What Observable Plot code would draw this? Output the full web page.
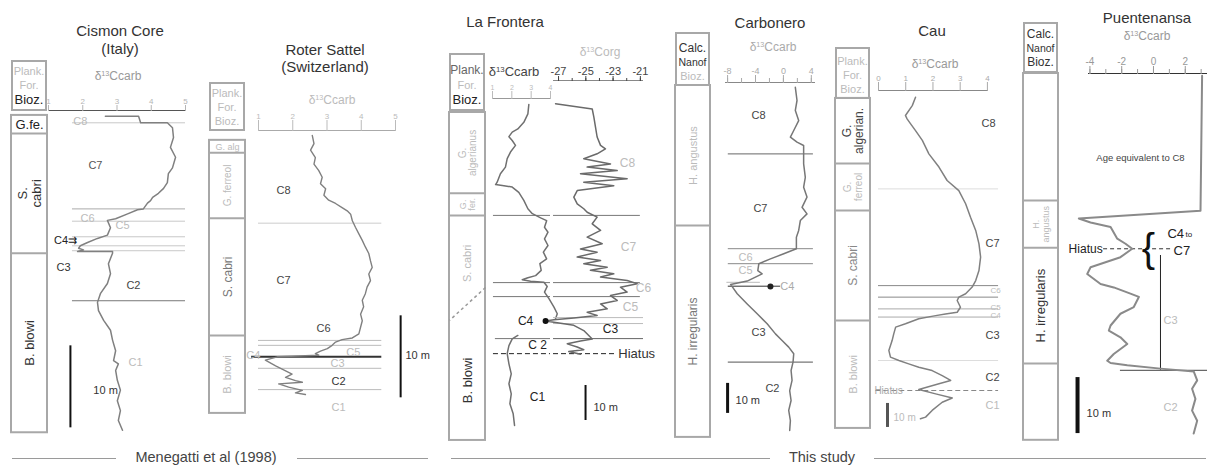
<!DOCTYPE html>
<html>
<head>
<meta charset="utf-8">
<script src="https://cdn.jsdelivr.net/npm/d3@7"></script>
<script src="https://cdn.jsdelivr.net/npm/@observablehq/plot@0.6"></script>
<style>
  html,body{margin:0;padding:0;background:#fff;}
  #fig{position:relative;width:1208px;height:467px;overflow:hidden;background:#fff;font-family:"Liberation Sans",Arial,sans-serif;color:#333;}
  .t{position:absolute;white-space:nowrap;line-height:1;}
  .hdr{position:absolute;box-sizing:border-box;border:2px solid #a8a8a8;text-align:center;line-height:14px;overflow:visible;display:flex;flex-direction:column;justify-content:flex-end;align-items:center;padding-bottom:1px;}
  .hdr div{white-space:nowrap;}
  .hr{position:absolute;height:0;border-top:1px solid #9a9a9a;}
</style>
</head>
<body>
<div id="fig"></div>
<script>
// ======================= DATA =======================
// ---- Cismon Core (Italy) : depth (m below top), d13C carb ----
const cismonDepth = [0.7,0.7,1.5,1.5,2.1,3.3,4.5,5.7,7.0,7.7,8.8,9.5,10.1,10.6,11.0,11.3,12.0,12.1,12.6,13.2,13.4,14.3,15.2,15.6,16.1,16.5,16.8,17.0,17.2,17.2,17.4,18.7,19.9,21.1,22.3,23.4,24.4,25.6,26.8,28.0,29.3,30.5,30.9,31.7,32.9,34.1,35.4,36.6,37.8,39.0];
const cismonCarb  = [2.66,3.63,3.69,4.47,4.62,4.65,4.56,4.71,4.62,4.50,4.47,4.36,4.21,4.04,3.98,3.89,3.77,3.60,3.31,2.96,2.72,2.81,2.72,2.43,2.14,1.93,1.88,2.02,1.85,2.87,2.87,2.75,2.81,2.72,2.52,2.43,2.46,2.61,2.81,2.87,2.96,2.90,3.04,2.96,3.01,3.10,3.01,3.10,3.04,3.16];
const cismonTicks = [1,2,3,4,5];
const cismonBounds = [1.5,12.0,13.5,15.4,16.5,17.1,23.2];
const cismonSegText = ["C8","C7","C6","C5","C4⇉","C3","C2","C1"];
const cismonSegX = [1.93,2.37,2.14,3.16,1.50,1.44,3.48,3.54];
const cismonSegDepth = [1.3,6.7,13.2,14.0,15.9,19.1,21.3,30.7];
const cismonZones = ["G.fe.","S.\ncabri","B. blowi"];
const cismonZoneTop = [0.6,2.8,17.4];
const cismonZoneBase = [2.8,17.4,39.3];
const cismonBar = [1.64,28.7,2.31,34.1];

// ---- Roter Sattel (Switzerland) ----
const roterDepth = [0.6,1.6,2.4,3.3,4.1,4.9,5.7,6.5,7.1,7.9,8.5,8.9,9.4,9.8,10.2,11.0,11.8,12.6,13.4,14.2,15.0,15.9,16.7,17.5,18.3,19.1,19.9,20.7,21.5,22.4,23.2,24.0,24.8,25.3,25.5,25.8,26.2,26.6,26.9,27.2,27.4,27.6,28.0,28.7,29.1,29.7,30.1,30.5,30.7,30.9,31.3,31.7,32.0,32.2];
const roterCarb  = [2.57,2.62,2.52,2.66,2.62,2.76,2.86,2.81,2.96,2.91,3.05,3.25,3.44,3.59,3.69,3.74,3.83,3.93,4.03,4.12,4.22,4.27,4.32,4.22,4.27,4.17,4.12,4.03,4.07,3.98,4.03,3.98,3.93,3.74,3.44,3.25,3.15,3.01,2.81,2.66,2.76,1.55,1.20,1.50,1.69,1.98,1.79,2.08,2.28,1.59,1.88,2.28,2.08,2.37];
const roterTicks = [1,2,3,4,5];
const roterBounds = [11.3,25.6,26.2,27.6,29.0,31.6];
const roterSegText = ["C8","C7","C6","C5","C4","C3","C2","C1"];
const roterSegX = [1.73,1.73,2.90,3.77,0.85,3.31,3.34,3.34];
const roterSegDepth = [7.3,18.3,24.1,27.1,27.4,28.4,30.6,33.8];
const roterZones = ["G. alg","G. ferreol","S. cabri","B. blowi"];
const roterZoneTop = [1.2,2.7,10.7,25.0];
const roterZoneBase = [2.7,10.7,25.0,34.5];
const roterBar = [5.15,22.6,5.29,27.4];

// ---- La Frontera ----
const fronteraCarbDepthA = [1.7,4.4,6.8,8.7,9.6,10.9,12.0,13.4,15.3,17.2,19.6,21.5,23.9,24.6,24.9,25.3,26.8,29.1,31.5,32.9,34.1,34.9,36.8,38.2,40.1,42.0,43.9,45.8,47.2,49.1,50.6,51.2,51.8,52.2,52.5,53.7,55.3,57.2,59.6,61.5,62.9];
const fronteraCarbA = [2.88,2.83,2.62,2.31,2.02,1.85,2.02,2.19,1.93,1.76,1.67,1.41,1.24,1.16,1.59,2.02,2.36,2.62,2.83,3.06,3.49,3.80,3.69,3.87,3.69,3.87,3.63,3.80,3.45,3.52,3.23,2.83,2.54,2.97,3.66,3.83,3.69,3.92,4.18,4.35,4.26];
const fronteraCarbDepthB = [67.7,68.7,70.6,72.9,75.8,78.7,81.5,84.4,87.2,90.1,93.4];
const fronteraCarbB = [2.31,2.02,1.85,1.76,1.85,1.97,1.85,1.97,1.90,2.07,2.14];
const fronteraOrgDepth = [1.5,3.0,5.3,8.2,11.0,13.4,14.4,15.8,17.2,18.7,19.6,20.6,21.5,22.9,23.9,24.9,26.3,28.2,30.1,31.5,32.5,33.9,35.8,37.7,39.6,41.5,43.0,43.9,45.3,46.3,47.2,48.2,49.1,50.1,51.0,52.0,52.9,53.9,55.3,56.3,57.7,58.7,60.1,61.1,62.0,62.7,63.2,63.6,64.2,64.8,66.3,68.7,69.3,70.1,71.0,71.8,72.3,73.1];
const fronteraOrg = [-27.22,-24.53,-24.41,-24.29,-24.17,-23.92,-23.56,-24.17,-25.15,-23.19,-24.90,-22.70,-25.39,-21.97,-25.15,-22.95,-25.63,-25.88,-25.63,-25.15,-24.90,-24.17,-24.53,-23.92,-24.90,-23.80,-25.39,-24.17,-25.63,-23.92,-25.15,-23.43,-24.66,-22.95,-23.92,-21.97,-21.23,-22.46,-21.97,-23.19,-22.70,-23.92,-23.43,-24.90,-24.17,-25.88,-27.34,-27.95,-26.85,-25.88,-25.15,-24.53,-25.39,-26.36,-25.63,-25.15,-26.25,-25.39];
const fronteraCarbTicks = [1,2,3,4];
const fronteraOrgTicks = [-27,-25,-23,-21];
const fronteraOrgMinor = [-27,-26,-25,-24,-23,-22,-21];
const fronteraBounds = [33.4,52.6,56.6,62.6,64.3,68.6];
const fronteraHiatus = [72.9];
const fronteraCarbSegText = ["C4","C 2","C1"];
const fronteraCarbSegX = [2.71,3.33,3.33];
const fronteraCarbSegDepth = [63.7,70.6,85.4];
const fronteraOrgSegText = ["C8","C7","C6","C5","C3"];
const fronteraOrgSegX = [-21.94,-21.87,-20.77,-21.73,-23.19];
const fronteraOrgSegDepth = [18.6,42.6,54.3,59.7,66.0];
const fronteraC4Dot = [-27.95,63.6];
const fronteraZones = ["G.\nalgerianus","G.\nfer.","S. cabri","B. blowi"];
const fronteraZoneTop = [4.0,27.1,33.4,63.4];
const fronteraZoneBase = [27.1,33.4,60.8,97.7];
const fronteraDiag = [54.0,63.4];
const fronteraBar = [-25.02,82.0,-24.44,88.3];

// ---- Carbonero ----
const carboDepth = [1.6,6.0,9.3,12.7,16.0,18.2,19.9,21.0,23.8,27.1,31.6,34.9,38.2,41.6,43.8,46.0,49.3,51.6,55.4,57.1,58.8,60.4,62.7,63.8,66.2,67.3,70.4,73.8,77.1,80.4,83.8,86.0,88.2,90.4,93.2,96.0,99.3,102.7,106.0,109.3,112.7,116.0];
const carboCarb  = [1.71,1.95,1.71,2.19,1.48,1.00,1.95,2.90,2.90,2.90,3.14,2.90,3.38,2.67,3.38,2.43,2.19,1.86,1.86,0.05,-1.86,-3.52,-3.67,-3.05,-5.19,-7.57,-6.62,-5.19,-3.76,-2.33,-1.14,-0.19,0.76,1.48,1.38,1.10,1.24,0.90,1.10,0.76,1.00,0.90];
const carboTicks = [-8,-4,0,4];
const carboMinor = [-8,-6,-4,-2,0,2,4];
const carboBounds = [23.8,55.4,60.4,66.6,67.9,93.2];
const carboSegText = ["C8","C7","C6","C5","C4","C3","C2"];
const carboSegX = [-3.57,-3.29,-5.43,-5.43,0.57,-3.57,-1.57];
const carboSegDepth = [11.0,42.1,58.4,62.6,68.1,83.3,102.0];
const carboC4Dot = [-1.86,68.0];
const carboZones = ["H. angustus","H. irregularis"];
const carboZoneTop = [1.0,47.7];
const carboZoneBase = [47.7,118.3];
const carboBar = [-8.0,100.3,-6.86,106.0];

// ---- Cau ----
const cauDepth = [2.8,6.3,10.4,11.8,13.9,16.7,20.8,26.4,31.9,37.5,41.7,47.2,52.8,58.3,63.9,69.4,75.0,79.2,81.9,84.7,86.1,87.5,90.3,92.4,93.1,93.8,95.1,97.2,98.6,101.4,104.2,108.3,111.1,112.5,113.9,115.3,116.7,118.8,120.8,122.2,124.6,126.4,128.1,129.9,133.3,136.1,136.8];
const cauCarb  = [1.36,1.24,0.99,1.05,1.18,1.36,1.61,1.85,2.22,2.52,2.95,3.20,3.38,3.57,3.69,3.75,3.69,3.57,3.44,3.20,2.95,2.89,3.01,2.89,2.46,2.10,1.48,0.99,0.63,0.56,0.50,0.38,0.44,0.75,1.11,1.48,1.97,2.34,2.65,2.22,1.48,2.10,2.71,2.34,1.97,1.73,1.54];
const cauTicks = [0,1,2,3,4];
const cauBounds = [41.0,81.3,86.1,91.0,94.4,112.5];
const cauHiatus = [125.0];
const cauSegText = ["C8","C7","C6","C5","C4","C3","C2","C1"];
const cauSegX = [4.04,4.19,4.30,4.30,4.30,4.19,4.19,4.19];
const cauSegDepth = [13.8,63.8,83.3,90.4,93.8,102.1,119.6,131.3];
const cauZones = ["G.\nalgerian.","G.\nferreol","S. cabri","B. blowi"];
const cauZoneTop = [3.3,30.4,50.0,95.8];
const cauZoneBase = [30.4,50.0,95.8,140.8];
const cauBar = [0.33,130.4,0.55,136.3];

// ---- Puentenansa ----
const puenDepth = [0.4,24.5,25.9,26.6,27.4,29.5,30.4,31.3,32.8,34.6,35.8,37.6,38.2,39.3,39.9,41.7,42.9,45.0,45.9,47.1,48.3,50.1,51.3,51.7,52.1,52.7,53.2,54.8,56.3,58.1,60.2,62.0,64.3];
const puenCarb  = [3.06,2.96,-4.70,-3.96,-2.70,-2.28,-1.76,-1.34,-2.08,-3.96,-4.17,-3.33,-2.50,-1.45,-0.92,-1.24,-2.08,-2.70,-2.81,-2.08,-1.65,-2.50,-2.91,-2.70,-1.65,0.44,2.53,2.75,2.43,2.64,2.43,2.75,2.53];
const puenTicks = [-4,-2,0,2];
const puenMinor = [-4,-3,-2,-1,0,1,2,3];
const puenBounds = [53.0];
const puenHiatus = [31.3];
const puenSpan = [0.44,32.5,53.0];
const puenNotes = ["Age equivalent to C8","C3","C2"];
const puenNoteX = [-0.82,1.07,1.07];
const puenNoteDepth = [15.0,44.1,59.6];
const puenZones = ["","H.\nangustus","H. irregularis",""];
const puenZoneTop = [0,22.7,31.1,51.8];
const puenZoneBase = [22.7,31.1,51.8,65.5];
const puenBar = [-4.78,54.3,-4.21,60.7];

// ======================= HELPERS =======================
const FONT = '"Liberation Sans", Arial, Helvetica, sans-serif';
const fig = document.getElementById("fig");
const D13 = '&delta;<span style="font-size:0.6em;position:relative;top:-0.55em">13</span>';

function place(node, left, top) {
  node.style.position = "absolute";
  node.style.left = left + "px";
  node.style.top = top + "px";
  fig.appendChild(node);
}
function txt(s, x, y, size, color, anchor = "middle", html = false) {
  const el = document.createElement("div");
  el.className = "t";
  el.style.left = x + "px";
  el.style.top = (y - size * 0.55) + "px";
  el.style.fontSize = size + "px";
  el.style.color = color;
  if (anchor === "middle") el.style.transform = "translateX(-50%)";
  if (anchor === "end") el.style.transform = "translateX(-100%)";
  if (html) el.innerHTML = s; else el.textContent = s;
  fig.appendChild(el);
}
function hline(x0, x1, y) {
  const el = document.createElement("div");
  el.className = "hr";
  Object.assign(el.style, {left: x0 + "px", top: y + "px", width: (x1 - x0) + "px"});
  fig.appendChild(el);
}
function header(x0, x1, y0, y1, lines) {
  const el = document.createElement("div");
  el.className = "hdr";
  Object.assign(el.style, {left: x0 + "px", top: y0 + "px", width: (x1 - x0) + "px", height: (y1 - y0) + "px"});
  el.innerHTML = lines.map(([s, c, fs]) => `<div style="color:${c};font-size:${fs || 11}px;line-height:${(fs || 11) + 3}px">${s}</div>`).join("");
  fig.appendChild(el);
}
function curvePlot(P, marks) {
  const M = 40, MT = 40, MB = 12;
  const yTop = P.axisTop ?? P.top0;
  const dMin = (yTop - P.top0) / P.ppm;
  const dMax = (P.bottom - P.top0) / P.ppm;
  const axes = [
    Plot.ruleY([dMin], {stroke: P.lineColor ?? "#555", strokeWidth: P.lineWidth ?? 1.2}),
    Plot.axisX(P.ticks, {anchor: "top", tickSize: P.tickSize ?? 6, tickPadding: 1, fontSize: P.tickFs ?? 9,
      color: P.tickColor ?? "#999", label: null, tickFormat: d => String(d)})
  ];
  if (P.minor) axes.push(Plot.axisX(P.minor, {anchor: "top", tickSize: P.minorSize ?? 4, color: P.tickColor ?? "#999", label: null, tickFormat: () => ""}));
  const svg = Plot.plot({
    width: P.x1 - P.x0 + 2 * M,
    height: P.bottom - yTop + MT + MB,
    marginLeft: M, marginRight: M, marginTop: MT, marginBottom: MB,
    x: {domain: P.dom},
    y: {domain: [dMin, dMax], reverse: true, axis: null},
    color: {type: "identity"},
    style: {background: "transparent", overflow: "visible", fontFamily: FONT},
    marks: [...marks, ...axes]
  });
  place(svg, P.x0 - M, yTop - MT);
}
function columnPlot(C, names, tops, bases, styles, extra = []) {
  const dMax = (C.bottom - C.top0) / C.ppm;
  const idx = d3.range(names.length);
  const lineIdx = idx.filter(i => i > 0 && styles[i].line !== false);
  const svg = Plot.plot({
    width: C.x1 - C.x0, height: C.bottom - C.top0, margin: 0,
    x: {domain: [0, 1], axis: null},
    y: {domain: [0, dMax], reverse: true, axis: null},
    color: {type: "identity"},
    style: {background: "transparent", overflow: "visible", fontFamily: FONT},
    marks: [
      Plot.rect([0], {x1: 0, x2: 1, y1: d3.min(tops), y2: d3.max(bases), stroke: "#a8a8a8", strokeWidth: 2, fill: "none"}),
      Plot.ruleY(lineIdx, {y: i => tops[i], stroke: "#a8a8a8", strokeWidth: 2}),
      Plot.text(idx.filter(i => names[i]), {
        x: 0.5, y: i => (tops[i] + bases[i]) / 2, text: i => names[i],
        rotate: i => styles[i].rot ? -90 : 0, fill: i => styles[i].c, fontSize: i => styles[i].fs, lineHeight: 1.05
      }),
      ...extra
    ]
  });
  place(svg, C.x0, C.top0);
}
const segText = (t, xs, ds, fills, fs = 11, anchor = "middle") =>
  Plot.text(t, {x: xs, y: ds, text: t, fill: fills, fontSize: fs, textAnchor: anchor});
const bar = (b, w, c = "#111", lab = "#333", fs = 11) => [
  Plot.ruleX([b[0]], {y1: b[1], y2: b[1] + 10, stroke: c, strokeWidth: w}),
  Plot.text(["10 m"], {x: b[2], y: b[3], text: d => d, fill: lab, fontSize: fs, textAnchor: "start"})
];

// ======================= PANEL 1: CISMON =======================
txt("Cismon Core", 120, 31, 15, "#333");
txt("(Italy)", 120, 49, 15, "#333");
header(11, 47, 60, 111, [["Plank.", "#bbb"], ["For.", "#bbb"], ["Bioz.", "#222", 13]]);
columnPlot({x0: 11, x1: 47, top0: 110, ppm: 8.2, bottom: 432}, cismonZones, cismonZoneTop, cismonZoneBase,
  [{c: "#222", rot: false, fs: 13}, {c: "#333", rot: true, fs: 13}, {c: "#333", rot: true, fs: 13}]);
txt(D13 + "Ccarb", 118, 77, 12, "#999", "middle", true);
curvePlot({x0: 48, x1: 185, dom: [1, 5], top0: 110, ppm: 8.2, bottom: 432, ticks: cismonTicks, tickSize: 6, tickFs: 8, tickColor: "#b5b5b5", lineColor: "#555"}, [
  Plot.ruleY(cismonBounds, {x1: 1.7, x2: 5, stroke: ["#c8c8c8", "#aaa", "#c8c8c8", "#c8c8c8", "#c8c8c8", "#c8c8c8", "#777"]}),
  Plot.line(cismonCarb, {x: cismonCarb, y: cismonDepth, stroke: "#808080", strokeWidth: 1.5}),
  segText(cismonSegText, cismonSegX, cismonSegDepth, ["#bbb", "#555", "#bbb", "#bbb", "#222", "#333", "#444", "#bbb"]),
  ...bar(cismonBar, 2)
]);

// ======================= PANEL 2: ROTER SATTEL =======================
txt("Roter Sattel", 325, 50, 15, "#333");
txt("(Switzerland)", 325, 67, 15, "#333");
header(209, 245, 82, 131, [["Plank.", "#bbb"], ["For.", "#bbb"], ["Bioz.", "#bbb"]]);
columnPlot({x0: 209, x1: 245, top0: 130, ppm: 8.2, bottom: 413}, roterZones, roterZoneTop, roterZoneBase,
  [{c: "#bbb", rot: false, fs: 9}, {c: "#bbb", rot: true, fs: 10}, {c: "#777", rot: true, fs: 12}, {c: "#bbb", rot: true, fs: 11}]);
txt(D13 + "Ccarb", 332, 101, 12, "#bbb", "middle", true);
curvePlot({x0: 258, x1: 395, dom: [1, 5], top0: 130, ppm: 8.2, bottom: 413, ticks: roterTicks, tickSize: 11, tickFs: 8, tickColor: "#bbb", lineColor: "#aaa"}, [
  Plot.ruleY(roterBounds, {x1: [1, 1, 1, 0.8, 1, 1], x2: 4.6, stroke: ["#ccc", "#bbb", "#bbb", "#333", "#bbb", "#bbb"], strokeWidth: [1, 1, 1, 2, 1, 1]}),
  Plot.line(roterCarb, {x: roterCarb, y: roterDepth, stroke: "#808080", strokeWidth: 1.4}),
  segText(roterSegText, roterSegX, roterSegDepth, ["#444", "#444", "#444", "#bbb", "#bbb", "#bbb", "#333", "#bbb"]),
  ...bar(roterBar, 2)
]);

// ======================= PANEL 3: LA FRONTERA =======================
txt("La Frontera", 505, 22, 15, "#333");
header(449, 485, 53, 111, [["Plank.", "#666", 12], ["For.", "#bbb"], ["Bioz.", "#222", 13]]);
columnPlot({x0: 449, x1: 485, top0: 98, ppm: 3.5, bottom: 440}, fronteraZones, fronteraZoneTop, fronteraZoneBase,
  [{c: "#bbb", rot: true, fs: 10}, {c: "#bbb", rot: true, fs: 9}, {c: "#bbb", rot: true, fs: 11}, {c: "#333", rot: true, fs: 13, line: false}],
  [Plot.link([0], {x1: 1, x2: 0, y1: fronteraDiag[0], y2: fronteraDiag[1], stroke: "#999", strokeWidth: 1.5, strokeDasharray: "3,3"})]);
txt(D13 + "Ccarb", 514, 72, 13, "#444", "middle", true);
txt(D13 + "Corg", 600, 53, 12, "#bbb", "middle", true);
curvePlot({x0: 492, x1: 550, dom: [1, 4], top0: 98, ppm: 3.5, bottom: 440, ticks: fronteraCarbTicks, tickSize: 8, tickFs: 7, tickColor: "#bbb", lineColor: "#999"}, [
  Plot.ruleY([fronteraBounds[0], fronteraBounds[1], fronteraBounds[2], fronteraBounds[5]], {x1: [1.05, 1.05, 1.05, 1.15], x2: 4, stroke: "#777"}),
  Plot.ruleY(fronteraHiatus, {x1: 1.05, x2: 4, stroke: "#222", strokeDasharray: "5,3"}),
  Plot.line(fronteraCarbA, {x: fronteraCarbA, y: fronteraCarbDepthA, stroke: "#707070", strokeWidth: 1.5}),
  Plot.line(fronteraCarbB, {x: fronteraCarbB, y: fronteraCarbDepthB, stroke: "#707070", strokeWidth: 1.5}),
  segText(fronteraCarbSegText, fronteraCarbSegX, fronteraCarbSegDepth, "#222", 12)
]);
curvePlot({x0: 553, x1: 643, dom: [-27.37, -20.77], top0: 98, axisTop: 80, ppm: 3.5, bottom: 440, ticks: fronteraOrgTicks, minor: fronteraOrgMinor, tickSize: 5, minorSize: 3, tickFs: 11, tickColor: "#444", lineColor: "#888"}, [
  Plot.ruleY(fronteraBounds, {x1: -27.37, x2: [-21.0, -21.0, -21.0, -20.77, -20.77, -20.77], stroke: ["#777", "#777", "#777", "#bbb", "#bbb", "#666"]}),
  Plot.ruleY(fronteraHiatus, {x1: -27.37, x2: -22.7, stroke: "#222", strokeDasharray: "5,3"}),
  Plot.line(fronteraOrg, {x: fronteraOrg, y: fronteraOrgDepth, stroke: "#6a6a6a", strokeWidth: 1.5}),
  Plot.dot([fronteraC4Dot], {x: d => d[0], y: d => d[1], r: 3, fill: "#111"}),
  segText(fronteraOrgSegText, fronteraOrgSegX, fronteraOrgSegDepth, ["#bbb", "#bbb", "#bbb", "#bbb", "#222"], 12),
  Plot.text(["Hiatus"], {x: -22.62, y: fronteraHiatus[0], text: d => d, fill: "#333", fontSize: 13, textAnchor: "start"}),
  ...bar(fronteraBar, 2, "#111", "#333", 11)
]);

// ======================= PANEL 4: CARBONERO =======================
txt("Carbonero", 770, 23, 15, "#333");
header(675, 710, 32, 86, [["Calc.", "#333", 12], ["Nanof", "#333", 10.5], ["Bioz.", "#bbb"]]);
columnPlot({x0: 675, x1: 710, top0: 82, ppm: 3.0, bottom: 437}, carboZones, carboZoneTop, carboZoneBase,
  [{c: "#bbb", rot: true, fs: 11}, {c: "#777", rot: true, fs: 12}]);
txt(D13 + "Ccarb", 773, 48, 12, "#aaa", "middle", true);
curvePlot({x0: 725, x1: 815, dom: [-8.3, 4.6], top0: 82, ppm: 3.0, bottom: 437, ticks: carboTicks, minor: carboMinor, tickSize: 8, minorSize: 5, tickFs: 9, tickColor: "#aaa", lineColor: "#888"}, [
  Plot.ruleY(carboBounds, {x1: [-7.9, -7.9, -7.9, -8.1, -7.9, -7.9], x2: [4.3, 4.3, 4.3, -3.3, -0.4, 4.3], stroke: ["#666", "#888", "#888", "#bbb", "#333", "#555"]}),
  Plot.line(carboCarb, {x: carboCarb, y: carboDepth, stroke: "#777", strokeWidth: 1.5}),
  Plot.dot([carboC4Dot], {x: d => d[0], y: d => d[1], r: 3, fill: "#222"}),
  segText(carboSegText, carboSegX, carboSegDepth, ["#444", "#444", "#bbb", "#bbb", "#aaa", "#444", "#444"]),
  ...bar(carboBar, 3)
]);

// ======================= PANEL 5: CAU =======================
txt("Cau", 932, 31, 15, "#333");
header(835, 870, 47, 99, [["Plank.", "#bbb"], ["For.", "#bbb"], ["Bioz.", "#bbb"]]);
columnPlot({x0: 835, x1: 870, top0: 90, ppm: 2.4, bottom: 428}, cauZones, cauZoneTop, cauZoneBase,
  [{c: "#444", rot: true, fs: 12}, {c: "#bbb", rot: true, fs: 10}, {c: "#888", rot: true, fs: 12}, {c: "#bbb", rot: true, fs: 11}]);
txt(D13 + "Ccarb", 935, 65, 12, "#999", "middle", true);
curvePlot({x0: 878, x1: 988, dom: [0, 4.04], top0: 90, ppm: 2.4, bottom: 428, ticks: cauTicks, tickSize: 9, tickFs: 8, tickColor: "#aaa", lineColor: "#888"}, [
  Plot.ruleY(cauBounds, {x1: 0, x2: 4.41, stroke: ["#ddd", "#888", "#888", "#aaa", "#aaa", "#ddd"]}),
  Plot.ruleY(cauHiatus, {x1: -0.1, x2: 4.41, stroke: "#888", strokeDasharray: "5,3"}),
  Plot.line(cauCarb, {x: cauCarb, y: cauDepth, stroke: "#808080", strokeWidth: 1.5}),
  segText(cauSegText, cauSegX, cauSegDepth, ["#444", "#444", "#bbb", "#bbb", "#bbb", "#444", "#444", "#bbb"], [11, 11, 8, 8, 8, 11, 11, 11]),
  Plot.text(["Hiatus"], {x: 0.37, y: cauHiatus[0], text: d => d, fill: "#aaa", fontSize: 10}),
  ...bar(cauBar, 3, "#555", "#bbb", 10)
]);

// ======================= PANEL 6: PUENTENANSA =======================
txt("Puentenansa", 1147, 18, 15, "#333");
txt(D13 + "Ccarb", 1147, 37, 12, "#999", "middle", true);
header(1023, 1058, 22, 73, [["Calc.", "#333", 12], ["Nanof", "#333", 10.5], ["Bioz.", "#333", 12]]);
columnPlot({x0: 1023, x1: 1058, top0: 73, ppm: 5.6, bottom: 440}, puenZones, puenZoneTop, puenZoneBase,
  [{c: "#333", rot: true, fs: 12}, {c: "#bbb", rot: true, fs: 9}, {c: "#333", rot: true, fs: 13}, {c: "#333", rot: true, fs: 12}]);
curvePlot({x0: 1088, x1: 1207, dom: [-4.09, 3.40], top0: 73, ppm: 5.6, bottom: 440, ticks: puenTicks, minor: puenMinor, tickSize: 8, minorSize: 5, tickFs: 10, tickColor: "#999", lineColor: "#333"}, [
  Plot.ruleY(puenBounds, {x1: -2.08, x2: 3.4, stroke: "#444"}),
  Plot.ruleX([puenSpan[0]], {y1: puenSpan[1], y2: puenSpan[2], stroke: "#222"}),
  Plot.ruleY(puenHiatus, {x1: -3.14, x2: 1.2, stroke: "#333", strokeDasharray: "4,3"}),
  Plot.line(puenCarb, {x: puenCarb, y: puenDepth, stroke: "#8a8a8a", strokeWidth: 2}),
  Plot.text(["{"], {x: -0.32, y: puenHiatus[0], text: d => d, fontSize: 40, fill: "#111"}),
  Plot.text(["Hiatus"], {x: -3.2, y: puenHiatus[0], text: d => d, fontSize: 12, fill: "#222", textAnchor: "end"}),
  Plot.text(["C4"], {x: 0.88, y: 28.6, text: d => d, fontSize: 13, fill: "#222", textAnchor: "start"}),
  Plot.text(["to"], {x: 2.01, y: 28.8, text: d => d, fontSize: 8, fill: "#222", textAnchor: "start"}),
  Plot.text(["C7"], {x: 1.26, y: 31.6, text: d => d, fontSize: 13, fill: "#222", textAnchor: "start"}),
  segText(puenNotes, puenNoteX, puenNoteDepth, ["#444", "#bbb", "#bbb"], [9.5, 11, 11]),
  ...bar(puenBar, 4)
]);

// ======================= BOTTOM CAPTION =======================
hline(12, 116, 458);
txt("Menegatti et al (1998)", 206, 458, 14.5, "#444");
hline(297, 428, 458);
hline(451, 770, 458);
txt("This study", 822, 458, 14.5, "#444");
hline(874, 1206, 458);
</script>
</body>
</html>
